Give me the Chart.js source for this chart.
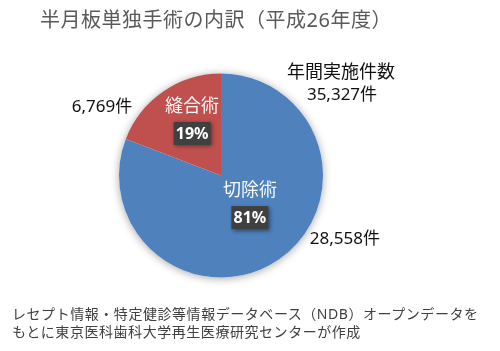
<!DOCTYPE html>
<html><head><meta charset="utf-8">
<script src="https://cdn.jsdelivr.net/npm/chart.js@4"></script>
<style>
html,body{margin:0;padding:0;background:#fff;}
#wrap{position:relative;width:500px;height:351px;overflow:hidden;font-family:"Noto Sans","Noto Sans CJK JP",sans-serif;}
#c{position:absolute;left:0;top:0;}
#title{position:absolute;left:40px;top:6px;font-size:20px;letter-spacing:0.5px;color:#595959;white-space:nowrap;line-height:28px;}
#foot{position:absolute;left:12px;top:305px;font-size:14px;letter-spacing:0.55px;color:#404040;line-height:18px;white-space:nowrap;}
</style></head>
<body><div id="wrap">
<canvas id="c" width="500" height="351"></canvas>
<div id="title">半月板単独手術の内訳（平成26年度）</div>
<div id="foot">レセプト情報・特定健診等情報データベース（NDB）オープンデータを<br>もとに東京医科歯科大学再生医療研究センターが作成</div>
</div>
<script>
const categories = ["切除術", "縫合術"];
const counts = [28558, 6769];
const colors = ["#4F81BD", "#C0504D"];
const totalLabel = "年間実施件数";
const unit = "件";

const total = counts.reduce((a,b)=>a+b,0);
const fmt = n => n.toLocaleString("en-US");
const FONT = '"Noto Sans","Noto Sans CJK JP",sans-serif';

const shadowPlugin = {
  id:'shadow',
  beforeDatasetsDraw(chart){
    const arc = chart.getDatasetMeta(0).data[0];
    if(!arc) return;
    const ctx = chart.ctx;
    ctx.save();
    ctx.shadowColor = 'rgba(0,0,0,0.35)';
    ctx.shadowBlur = 9;
    ctx.shadowOffsetY = 1;
    ctx.fillStyle = '#ffffff';
    ctx.beginPath();
    ctx.arc(arc.x, arc.y, arc.outerRadius, 0, Math.PI*2);
    ctx.fill();
    ctx.restore();
  }
};

const labelPlugin = {
  id:'labels',
  afterDatasetsDraw(chart){
    const ctx = chart.ctx;
    const meta = chart.getDatasetMeta(0);
    meta.data.forEach((arc,i)=>{
      const p = arc.tooltipPosition();
      const pct = Math.round(counts[i]/total*100) + "%";
      ctx.save();
      ctx.font = '18px ' + FONT;
      ctx.fillStyle = 'rgba(255,255,255,0.95)';
      ctx.textAlign = 'center';
      ctx.textBaseline = 'middle';
      ctx.fillText(categories[i], p.x, p.y - 27);
      ctx.font = 'bold 16px ' + FONT;
      const w = 37, h = 23;
      ctx.shadowColor = 'rgba(0,0,0,0.45)';
      ctx.shadowBlur = 4;
      ctx.shadowOffsetX = 1.5;
      ctx.shadowOffsetY = 1.5;
      ctx.fillStyle = '#404040';
      ctx.fillRect(p.x - w/2, p.y - h/2, w, h);
      ctx.shadowColor = 'transparent';
      ctx.fillStyle = '#ffffff';
      ctx.fillText(pct, p.x, p.y + 1);
      const mid = (arc.startAngle + arc.endAngle)/2;
      const ox = arc.x + Math.cos(mid)*arc.outerRadius;
      const oy = arc.y + Math.sin(mid)*arc.outerRadius;
      ctx.font = '17px ' + FONT;
      ctx.fillStyle = '#111111';
      const right = Math.cos(mid) > 0;
      ctx.textAlign = right ? 'left' : 'right';
      ctx.fillText(fmt(counts[i]) + unit, right ? ox + 31 : ox - 31, right ? oy - 20 : oy + 16);
      ctx.restore();
    });
    const a0 = meta.data[0];
    ctx.save();
    ctx.textAlign = 'center';
    ctx.textBaseline = 'middle';
    ctx.fillStyle = '#111111';
    ctx.font = '18px ' + FONT;
    ctx.fillText(totalLabel, a0.x + 120, a0.y - 103);
    ctx.font = '17px ' + FONT;
    ctx.fillText(fmt(total) + unit, a0.x + 121, a0.y - 80);
    ctx.restore();
  }
};

new Chart(document.getElementById('c'), {
  type:'pie',
  data:{
    labels: categories,
    datasets:[{ data: counts, backgroundColor: colors, borderWidth: 0 }]
  },
  options:{
    responsive:false,
    animation:false,
    layout:{ padding:{ left:119, right:177, top:73, bottom:73 } },
    plugins:{ legend:{display:false}, tooltip:{enabled:false}, title:{display:false} }
  },
  plugins:[shadowPlugin, labelPlugin]
});
</script>
</body></html>
